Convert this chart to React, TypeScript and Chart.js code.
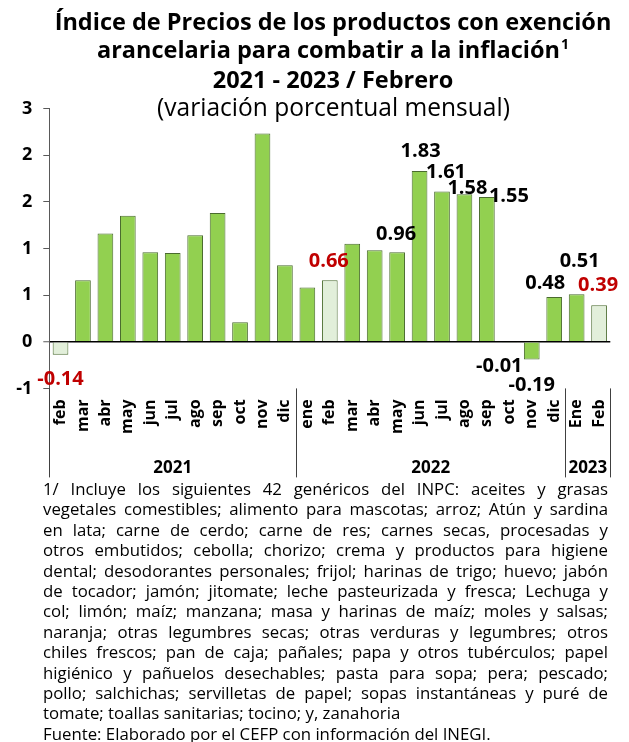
import React, { useEffect, useRef } from "react";
import { Chart, registerables } from "chart.js";

Chart.register(...registerables);

// ---------- data ----------
const categories = [
  "feb", "mar", "abr", "may", "jun", "jul", "ago", "sep", "oct", "nov", "dic",
  "ene", "feb", "mar", "abr", "may", "jun", "jul", "ago", "sep", "oct", "nov", "dic",
  "Ene", "Feb",
];
const yearLabels = ["2021", "2022", "2023"];
const monthsPerYear = [11, 12, 2];
const values = [
  -0.14, 0.66, 1.16, 1.35, 0.96, 0.95, 1.14, 1.38, 0.21, 2.23, 0.82,
  0.58, 0.66, 1.05, 0.98, 0.96, 1.83, 1.61, 1.58, 1.55, -0.01, -0.19, 0.48,
  0.51, 0.39,
];
const yMin = -0.5;
const yMax = 2.5;
const yStep = 0.5;

const titleLines = [
  "Índice de Precios de los productos con exención",
  "arancelaria para combatir a la inflación",
  "2021 - 2023 / Febrero",
];
const titleSup = "1";
const subtitle = "(variación porcentual mensual)";
const footnoteLines = [
  "1/ Incluye los siguientes 42 genéricos del INPC: aceites y grasas",
  "vegetales comestibles; alimento para mascotas; arroz; Atún y sardina",
  "en lata; carne de cerdo; carne de res; carnes secas, procesadas y",
  "otros embutidos; cebolla; chorizo; crema y productos para higiene",
  "dental; desodorantes personales; frijol; harinas de trigo; huevo; jabón",
  "de tocador; jamón; jitomate; leche pasteurizada y fresca; Lechuga y",
  "col; limón; maíz; manzana; masa y harinas de maíz; moles y salsas;",
  "naranja; otras legumbres secas; otras verduras y legumbres; otros",
  "chiles frescos; pan de caja; pañales; papa y otros tubérculos; papel",
  "higiénico y pañuelos desechables; pasta para sopa; pera; pescado;",
  "pollo; salchichas; servilletas de papel; sopas instantáneas y puré de",
];
const footnoteLastLine = "tomate; toallas sanitarias; tocino; y, zanahoria";
const sourceLine = "Fuente: Elaborado por el CEFP con información del INEGI.";

// data-label placement (layout only): [dx, gap] in px; null = no label
const labelPlacement: (number[] | null)[] = [
  [0, 23], null, null, null, null, null, null, null, null, null, null,
  null, [-1, 20], null, null, [-1, 19], [1, 21], [4, 21], [3, 7], [22, 2], [-10, 22], [0, 24], [-9, 15],
  [3, 34], [-1, 22],
];

// ---------- styles ----------
const FONT = '"Open Sans", "DejaVu Sans", sans-serif';
const GREEN = "#92D050";
const LIGHT = "#E2EFDA";
const BAR_BORDER = "#4A6B2E";
const RED = "#C00000";
const AXIS = "#595959";

const isFeb = (i: number) => categories[i].toLowerCase() === "feb";

function fitSize(ctx: CanvasRenderingContext2D, text: string, weight: string, target: number) {
  ctx.font = `${weight} 20px ${FONT}`;
  const w = ctx.measureText(text).width;
  return (20 * target) / w;
}

function drawJustified(ctx: CanvasRenderingContext2D, text: string, x: number, y: number, width: number) {
  const words = text.split(" ");
  const total = words.reduce((s, w) => s + ctx.measureText(w).width, 0);
  const gap = (width - total) / (words.length - 1);
  let cx = x;
  for (const w of words) {
    ctx.fillText(w, cx, y);
    cx += ctx.measureText(w).width + gap;
  }
}

const decorPlugin = {
  id: "decor",
  afterDraw(chart: any) {
    const ctx: CanvasRenderingContext2D = chart.ctx;
    const area = chart.chartArea;
    ctx.save();
    ctx.fillStyle = "#000";
    ctx.textBaseline = "alphabetic";

    // ---- title ----
    const cx = 333;
    const tSize = fitSize(ctx, titleLines[0], "bold", 557);
    ctx.font = `bold ${tSize}px ${FONT}`;
    ctx.textAlign = "center";
    ctx.fillText(titleLines[0], cx, 30);
    const w2 = ctx.measureText(titleLines[1]).width;
    ctx.font = `bold ${tSize * 0.6}px ${FONT}`;
    const ws = ctx.measureText(titleSup).width;
    const start = cx - (w2 + ws + 1) / 2;
    ctx.textAlign = "left";
    ctx.font = `bold ${tSize}px ${FONT}`;
    ctx.fillText(titleLines[1], start, 58);
    ctx.font = `bold ${tSize * 0.6}px ${FONT}`;
    ctx.fillText(titleSup, start + w2 + 1, 58 - tSize * 0.38);
    ctx.textAlign = "center";
    ctx.font = `bold ${tSize}px ${FONT}`;
    ctx.fillText(titleLines[2], cx, 88);
    const sSize = fitSize(ctx, subtitle, "normal", 353);
    ctx.font = `normal ${sSize}px ${FONT}`;
    ctx.fillText(subtitle, 333.5, 116);

    // ---- group dividers and years ----
    const n = categories.length;
    const cw = (area.right - area.left) / n;
    const bounds = [0];
    monthsPerYear.forEach((m) => bounds.push(bounds[bounds.length - 1] + m));
    ctx.strokeStyle = "#404040";
    ctx.lineWidth = 1;
    for (const b of bounds) {
      const x = Math.round(area.left + b * cw) + 0.5;
      ctx.beginPath();
      ctx.moveTo(x, area.bottom);
      ctx.lineTo(x, area.bottom + 89);
      ctx.stroke();
    }
    ctx.font = `bold 17px ${FONT}`;
    ctx.textAlign = "center";
    yearLabels.forEach((yl, k) => {
      const mid = area.left + ((bounds[k] + bounds[k + 1]) / 2) * cw;
      ctx.fillText(yl, mid, 472.5);
    });

    // ---- footnote ----
    const left = 43;
    const width = 565;
    ctx.font = `normal 16px ${FONT}`;
    let maxW = 0;
    footnoteLines.forEach((l) => (maxW = Math.max(maxW, ctx.measureText(l).width)));
    const fSize = Math.min(16.8, (16 * (width - 4)) / maxW);
    ctx.font = `normal ${fSize}px ${FONT}`;
    ctx.textAlign = "left";
    footnoteLines.forEach((l, k) => drawJustified(ctx, l, left, 495 + 20.4 * k, width));
    ctx.fillText(footnoteLastLine, left, 495 + 20.4 * footnoteLines.length);
    ctx.fillText(sourceLine, left, 495 + 20.4 * (footnoteLines.length + 1));
    ctx.restore();
  },
  afterDatasetsDraw(chart: any) {
    const ctx: CanvasRenderingContext2D = chart.ctx;
    const meta = chart.getDatasetMeta(0);
    ctx.save();
    const size = 20;
    ctx.font = `bold ${size}px ${FONT}`;
    ctx.textAlign = "center";
    ctx.textBaseline = "alphabetic";
    meta.data.forEach((bar: any, i: number) => {
      const p = labelPlacement[i];
      if (!p) return;
      const v = values[i];
      const top = Math.min(bar.y, bar.base);
      const bottom = Math.max(bar.y, bar.base);
      const cy = v >= 0 ? top - p[1] : bottom + p[1];
      ctx.fillStyle = isFeb(i) ? RED : "#000";
      ctx.fillText(v.toFixed(2), bar.x + p[0], cy + size * 0.36);
    });
    ctx.restore();
  },
};

export default function App() {
  const ref = useRef<HTMLCanvasElement>(null);
  useEffect(() => {
    document.body.style.margin = "0";
    document.body.style.overflow = "hidden";
    const chart = new Chart(ref.current as HTMLCanvasElement, {
      type: "bar",
      data: {
        labels: categories,
        datasets: [
          {
            data: values,
            backgroundColor: categories.map((_, i) => (isFeb(i) ? LIGHT : GREEN)),
            borderColor: BAR_BORDER,
            borderWidth: 1,
            barPercentage: 0.7,
            categoryPercentage: 1,
          },
        ],
      },
      options: {
        responsive: false,
        animation: false,
        devicePixelRatio: 1,
        layout: { padding: { top: 108.4, left: 0, right: 18.7, bottom: 263.6 } },
        plugins: { legend: { display: false }, title: { display: false }, tooltip: { enabled: false } },
        scales: {
          x: {
            grid: { display: false, drawTicks: false },
            border: { display: false },
            ticks: {
              autoSkip: false,
              minRotation: 90,
              maxRotation: 90,
              padding: 11,
              color: "#000",
              font: { family: FONT, size: 16, weight: "bold" },
            },
            afterFit: (s: any) => {
              s.height = 90;
              s.paddingLeft = 0;
              s.paddingRight = 0;
            },
          },
          y: {
            min: yMin,
            max: yMax,
            border: { display: true, color: AXIS, width: 1 },
            grid: {
              drawOnChartArea: true,
              drawTicks: true,
              tickLength: 6,
              tickColor: AXIS,
              tickWidth: 1,
              color: (c: any) => (c.tick && c.tick.value === 0 ? "#000" : "rgba(0,0,0,0)"),
              lineWidth: (c: any) => (c.tick && c.tick.value === 0 ? 1.5 : 1),
            },
            ticks: {
              stepSize: yStep,
              padding: 11,
              color: "#000",
              font: { family: FONT, size: 18, weight: "bold" },
              callback: (v: any) => Number(v).toFixed(0),
            },
            afterFit: (s: any) => {
              s.width = 49.3;
            },
          },
        },
      },
      plugins: [decorPlugin],
    } as any);
    return () => chart.destroy();
  }, []);
  return <canvas ref={ref} width={629} height={742} style={{ display: "block", width: 629, height: 742 }} />;
}
